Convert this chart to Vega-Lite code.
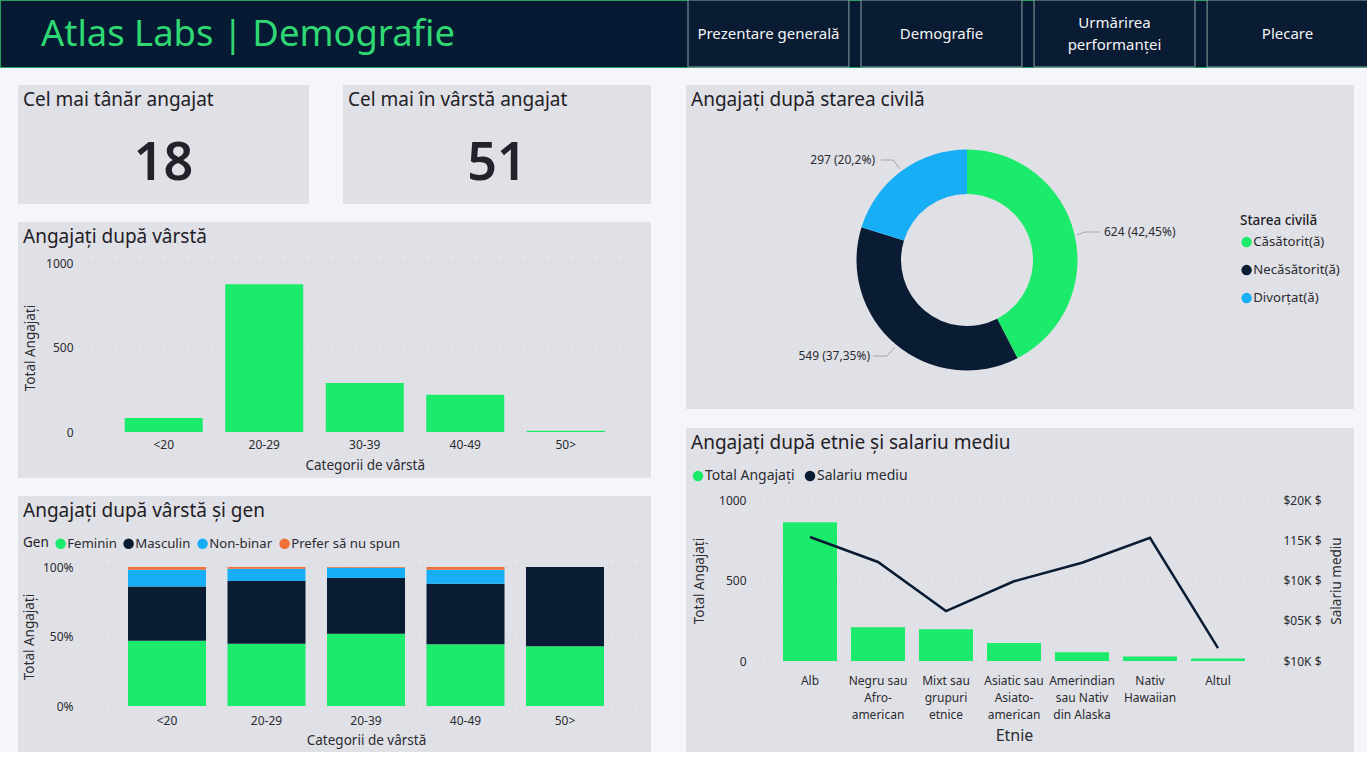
{
  "$schema": "https://vega.github.io/schema/vega-lite/v6.json",
  "background": "#f5f6fc",
  "padding": {"left": -1, "top": -1, "right": 0, "bottom": 0},
  "spacing": 17,
  "resolve": {"scale": {"color": "independent"}, "legend": {"color": "independent"}},
  "config": {
    "font": "Noto Sans",
    "view": {"fill": "#e0e1e7", "stroke": null},
    "title": {"anchor": "start", "frame": "group", "fontSize": 19, "fontWeight": "normal", "color": "#1f2026", "offset": -25, "dx": 5},
    "axis": {"domain": false, "ticks": false, "grid": false, "labelColor": "#2b2b30", "labelFontSize": 12, "titleColor": "#2b2b30", "titleFontSize": 13.5, "titleFontWeight": "normal", "labelOverlap": false, "labelAngle": 0},
    "legend": {"symbolType": "circle", "labelColor": "#2b2b30", "titleColor": "#1f2026", "labelFontSize": 13.2, "titleFontSize": 13.5, "titleFontWeight": "normal", "labelLimit": 0}
  },
  "vconcat": [
    {
      "width": 1367,
      "height": 67,
      "view": {"fill": "#061b33", "stroke": "#2a9d63"},
      "title": {"text": "Atlas Labs | Demografie", "fontSize": 36.4, "color": "#2fd873", "dx": 41, "offset": -54},
      "data": {"values": [
        {"buton": "Prezentare generală", "randuri": 1},
        {"buton": "Demografie", "randuri": 1},
        {"buton": "Urmărirea\nperformanței", "randuri": 2},
        {"buton": "Plecare", "randuri": 1}
      ]},
      "encoding": {
        "x": {"field": "buton", "type": "nominal", "sort": null, "axis": null, "scale": {"range": [688, 1368], "paddingInner": 0.07, "paddingOuter": 0}}
      },
      "layer": [
        {"mark": {"type": "rect", "fill": "#0a1c33", "stroke": "#8aa5a3", "strokeWidth": 1}},
        {
          "transform": [{"filter": "datum.randuri == 1"}],
          "mark": {"type": "text", "color": "#f2f4f6", "fontSize": 15},
          "encoding": {"text": {"field": "buton"}}
        },
        {
          "transform": [{"filter": "datum.randuri == 2"}],
          "mark": {"type": "text", "color": "#f2f4f6", "fontSize": 15, "lineBreak": "\n", "lineHeight": 22, "dy": -11},
          "encoding": {"text": {"field": "buton"}}
        }
      ]
    },
    {
      "spacing": 17,
      "resolve": {"scale": {"color": "independent"}, "legend": {"color": "independent"}},
      "hconcat": [
        {"width": 1, "height": 1, "view": {"fill": null}, "data": {"values": []}, "mark": "rect"},
        {
          "spacing": 35,
          "resolve": {"scale": {"color": "independent"}, "legend": {"color": "independent"}},
          "hconcat": [
            {
              "spacing": 18,
              "resolve": {"scale": {"color": "independent"}, "legend": {"color": "independent"}},
              "vconcat": [
                {
                  "spacing": 34,
                  "hconcat": [
                    {
                      "width": 291, "height": 119,
                      "title": "Cel mai tânăr angajat",
                      "data": {"values": [{"varsta": 18}]},
                      "mark": {"type": "text", "fontSize": 52, "fontWeight": 600, "color": "#22232a", "dy": 19},
                      "encoding": {
                        "x": {"datum": 0.5, "type": "quantitative", "scale": {"domain": [0, 1]}, "axis": null},
                        "y": {"datum": 0.5, "type": "quantitative", "scale": {"domain": [0, 1]}, "axis": null},
                        "text": {"field": "varsta"}
                      }
                    },
                    {
                      "width": 308, "height": 119,
                      "title": "Cel mai în vârstă angajat",
                      "data": {"values": [{"varsta": 51}]},
                      "mark": {"type": "text", "fontSize": 52, "fontWeight": 600, "color": "#22232a", "dy": 19},
                      "encoding": {
                        "x": {"datum": 0.5, "type": "quantitative", "scale": {"domain": [0, 1]}, "axis": null},
                        "y": {"datum": 0.5, "type": "quantitative", "scale": {"domain": [0, 1]}, "axis": null},
                        "text": {"field": "varsta"}
                      }
                    }
                  ]
                },
                {
                  "width": 633, "height": 256,
                  "title": "Angajați după vârstă",
                  "resolve": {"scale": {"x": "independent"}},
                  "layer": [
                    {
                      "data": {"values": [{"tick": 0}, {"tick": 500}, {"tick": 1000}]},
                      "mark": {"type": "rule", "color": "#c8c9cf", "strokeDash": [1, 5]},
                      "encoding": {
                        "x": {"datum": 0, "type": "quantitative", "scale": {"domain": [0, 1], "range": [64, 627]}, "axis": null},
                        "x2": {"datum": 1},
                        "y": {"field": "tick", "type": "quantitative", "scale": {"domain": [0, 1000], "range": [210, 41]}, "axis": {"values": [0, 500, 1000], "format": "d", "orient": "left", "offset": -57, "title": "Total Angajați", "titlePadding": 8}}
                      }
                    },
                    {
                      "data": {"values": [
                        {"categorie": "<20", "total": 83},
                        {"categorie": "20-29", "total": 875},
                        {"categorie": "30-39", "total": 290},
                        {"categorie": "40-49", "total": 220},
                        {"categorie": "50>", "total": 8}
                      ]},
                      "mark": {"type": "bar", "color": "#1cea6a"},
                      "encoding": {
                        "x": {"field": "categorie", "type": "nominal", "sort": null, "scale": {"range": [95.5, 598], "paddingInner": 0.224, "paddingOuter": 0.112}, "axis": {"offset": -46, "title": "Categorii de vârstă", "labelPadding": 7, "titlePadding": 8}},
                        "y": {"field": "total", "type": "quantitative"}
                      }
                    }
                  ]
                },
                {
                  "width": 633, "height": 256,
                  "title": "Angajați după vârstă și gen",
                  "resolve": {"scale": {"x": "independent"}},
                  "layer": [
                    {
                      "data": {"values": [{"tick": 0}, {"tick": 0.5}, {"tick": 1}]},
                      "mark": {"type": "rule", "color": "#c8c9cf", "strokeDash": [1, 5]},
                      "encoding": {
                        "x": {"datum": 0, "type": "quantitative", "scale": {"domain": [0, 1], "range": [69, 624]}, "axis": null},
                        "x2": {"datum": 1},
                        "y": {"field": "tick", "type": "quantitative", "scale": {"domain": [0, 1], "range": [210, 71]}, "axis": {"values": [0, 0.5, 1], "format": ".0%", "orient": "left", "offset": -57, "title": "Total Angajați", "titlePadding": 6}}
                      }
                    },
                    {
                      "data": {"values": [
                        {"categorie": "<20", "gen": "Feminin", "ordine": 1, "procent": 47},
                        {"categorie": "<20", "gen": "Masculin", "ordine": 2, "procent": 39},
                        {"categorie": "<20", "gen": "Non-binar", "ordine": 3, "procent": 12},
                        {"categorie": "<20", "gen": "Prefer să nu spun", "ordine": 4, "procent": 2},
                        {"categorie": "20-29", "gen": "Feminin", "ordine": 1, "procent": 44.7},
                        {"categorie": "20-29", "gen": "Masculin", "ordine": 2, "procent": 45.3},
                        {"categorie": "20-29", "gen": "Non-binar", "ordine": 3, "procent": 8.8},
                        {"categorie": "20-29", "gen": "Prefer să nu spun", "ordine": 4, "procent": 1.2},
                        {"categorie": "20-39", "gen": "Feminin", "ordine": 1, "procent": 52},
                        {"categorie": "20-39", "gen": "Masculin", "ordine": 2, "procent": 40},
                        {"categorie": "20-39", "gen": "Non-binar", "ordine": 3, "procent": 7.5},
                        {"categorie": "20-39", "gen": "Prefer să nu spun", "ordine": 4, "procent": 0.5},
                        {"categorie": "40-49", "gen": "Feminin", "ordine": 1, "procent": 44.5},
                        {"categorie": "40-49", "gen": "Masculin", "ordine": 2, "procent": 43.5},
                        {"categorie": "40-49", "gen": "Non-binar", "ordine": 3, "procent": 10},
                        {"categorie": "40-49", "gen": "Prefer să nu spun", "ordine": 4, "procent": 2},
                        {"categorie": "50>", "gen": "Feminin", "ordine": 1, "procent": 43},
                        {"categorie": "50>", "gen": "Masculin", "ordine": 2, "procent": 57}
                      ]},
                      "mark": {"type": "bar"},
                      "encoding": {
                        "x": {"field": "categorie", "type": "nominal", "sort": null, "scale": {"range": [99.25, 596.75], "paddingInner": 0.216, "paddingOuter": 0.108}, "axis": {"offset": -46, "title": "Categorii de vârstă", "labelPadding": 9, "titlePadding": 7}},
                        "y": {"field": "procent", "type": "quantitative", "stack": "normalize"},
                        "order": {"field": "ordine"},
                        "color": {
                          "field": "gen", "type": "nominal",
                          "scale": {"domain": ["Feminin", "Masculin", "Non-binar", "Prefer să nu spun"], "range": ["#1cea6a", "#0a1c33", "#18aef5", "#f0703a"]},
                          "legend": {"orient": "none", "legendX": 5, "legendY": 41, "direction": "horizontal", "title": "Gen", "titleOrient": "left", "titlePadding": 5, "columnPadding": 5, "labelOffset": 0, "symbolSize": 110}
                        }
                      }
                    }
                  ]
                }
              ]
            },
            {
              "spacing": 19,
              "resolve": {"scale": {"color": "independent"}, "legend": {"color": "independent"}},
              "vconcat": [
                {
                  "width": 668, "height": 324,
                  "title": "Angajați după starea civilă",
                  "data": {"values": [
                    {"stare": "Căsătorit(ă)", "ordine": 1, "angajati": 624, "eticheta": "624 (42,45%)"},
                    {"stare": "Necăsătorit(ă)", "ordine": 2, "angajati": 549, "eticheta": "549 (37,35%)"},
                    {"stare": "Divorțat(ă)", "ordine": 3, "angajati": 297, "eticheta": "297 (20,2%)"}
                  ]},
                  "encoding": {
                    "x": {"datum": 0, "type": "quantitative", "scale": {"domain": [-281, 387], "range": [0, 668]}, "axis": null},
                    "y": {"datum": 0, "type": "quantitative", "scale": {"domain": [-175, 149], "range": [0, 324]}, "axis": null}
                  },
                  "layer": [
                    {
                      "mark": {"type": "arc", "radius": 110.5, "radius2": 66},
                      "encoding": {
                        "theta": {"field": "angajati", "type": "quantitative", "stack": true},
                        "order": {"field": "ordine"},
                        "color": {
                          "field": "stare", "type": "nominal",
                          "scale": {"domain": ["Căsătorit(ă)", "Necăsătorit(ă)", "Divorțat(ă)"], "range": ["#1cea6a", "#0a1c33", "#18aef5"]},
                          "legend": {"orient": "none", "legendX": 554, "legendY": 129, "title": "Starea civilă", "titleFontWeight": 500, "rowPadding": 14, "labelOffset": 0, "symbolSize": 110, "titlePadding": 8}
                        }
                      }
                    },
                    {
                      "transform": [{"filter": "datum.ordine == 1"}],
                      "mark": {"type": "text", "align": "left", "fontSize": 12, "color": "#2b2b30"},
                      "encoding": {"x": {"datum": 137}, "y": {"datum": -28}, "text": {"field": "eticheta"}}
                    },
                    {
                      "transform": [{"filter": "datum.ordine == 2"}],
                      "mark": {"type": "text", "align": "right", "fontSize": 12, "color": "#2b2b30"},
                      "encoding": {"x": {"datum": -97}, "y": {"datum": 96}, "text": {"field": "eticheta"}}
                    },
                    {
                      "transform": [{"filter": "datum.ordine == 3"}],
                      "mark": {"type": "text", "align": "right", "fontSize": 12, "color": "#2b2b30"},
                      "encoding": {"x": {"datum": -92}, "y": {"datum": -100}, "text": {"field": "eticheta"}}
                    },
                    {"data": {"values": [{}]}, "mark": {"type": "rule", "color": "#a5a6ac"}, "encoding": {"x": {"datum": 110}, "x2": {"datum": 118}, "y": {"datum": -25}, "y2": {"datum": -28}}},
                    {"data": {"values": [{}]}, "mark": {"type": "rule", "color": "#a5a6ac"}, "encoding": {"x": {"datum": 118}, "x2": {"datum": 133}, "y": {"datum": -28}, "y2": {"datum": -28}}},
                    {"data": {"values": [{}]}, "mark": {"type": "rule", "color": "#a5a6ac"}, "encoding": {"x": {"datum": -94}, "x2": {"datum": -80}, "y": {"datum": 96}, "y2": {"datum": 96}}},
                    {"data": {"values": [{}]}, "mark": {"type": "rule", "color": "#a5a6ac"}, "encoding": {"x": {"datum": -80}, "x2": {"datum": -72}, "y": {"datum": 96}, "y2": {"datum": 87}}},
                    {"data": {"values": [{}]}, "mark": {"type": "rule", "color": "#a5a6ac"}, "encoding": {"x": {"datum": -86}, "x2": {"datum": -74}, "y": {"datum": -100}, "y2": {"datum": -100}}},
                    {"data": {"values": [{}]}, "mark": {"type": "rule", "color": "#a5a6ac"}, "encoding": {"x": {"datum": -74}, "x2": {"datum": -67}, "y": {"datum": -100}, "y2": {"datum": -91}}}
                  ]
                },
                {
                  "width": 668, "height": 324,
                  "title": "Angajați după etnie și salariu mediu",
                  "resolve": {"scale": {"x": "independent", "y": "independent"}},
                  "data": {"values": [
                    {"etnie": "Alb", "total": 862, "salariu": 15400},
                    {"etnie": "Negru sau|Afro-|american", "total": 210, "salariu": 12300},
                    {"etnie": "Mixt sau|grupuri|etnice", "total": 197, "salariu": 6200},
                    {"etnie": "Asiatic sau|Asiato-|american", "total": 112, "salariu": 9900},
                    {"etnie": "Amerindian|sau Nativ|din Alaska", "total": 55, "salariu": 12200},
                    {"etnie": "Nativ|Hawaiian", "total": 28, "salariu": 15300},
                    {"etnie": "Altul", "total": 15, "salariu": 1600}
                  ]},
                  "layer": [
                    {
                      "data": {"values": [{"tick": 0}, {"tick": 500}, {"tick": 1000}]},
                      "mark": {"type": "rule", "color": "#c8c9cf", "strokeDash": [1, 5]},
                      "encoding": {
                        "x": {"datum": 0, "type": "quantitative", "scale": {"domain": [0, 1], "range": [69, 589]}, "axis": null},
                        "x2": {"datum": 1},
                        "y": {"field": "tick", "type": "quantitative", "scale": {"domain": [0, 1000], "range": [233, 72]}, "axis": null}
                      }
                    },
                    {
                      "mark": {"type": "bar"},
                      "encoding": {
                        "x": {"field": "etnie", "type": "nominal", "sort": null, "scale": {"range": [90, 566], "paddingInner": 0.206, "paddingOuter": 0.103}, "axis": {"offset": -91, "title": "Etnie", "titleFontSize": 16, "labelPadding": 14, "titlePadding": 7, "labelExpr": "split(datum.label, '|')", "labelLineHeight": 17, "labelLimit": 0}},
                        "y": {"field": "total", "type": "quantitative", "scale": {"domain": [0, 1000], "range": [233, 72]}, "axis": {"values": [0, 500, 1000], "format": "d", "orient": "left", "offset": -62, "title": "Total Angajați", "titlePadding": 12}},
                        "color": {
                          "datum": "Total Angajați",
                          "scale": {"domain": ["Total Angajați", "Salariu mediu"], "range": ["#1cea6a", "#0a1c33"]},
                          "legend": {"orient": "none", "legendX": 5, "legendY": 41, "direction": "horizontal", "title": null, "columnPadding": 8, "labelOffset": 0, "labelFontSize": 14, "symbolSize": 110}
                        }
                      }
                    },
                    {
                      "mark": {"type": "line", "color": "#0a1c33", "strokeWidth": 2.5},
                      "encoding": {
                        "x": {"field": "etnie", "type": "nominal", "sort": null, "scale": {"range": [90, 566], "paddingInner": 0.206, "paddingOuter": 0.103}, "axis": null},
                        "y": {"field": "salariu", "type": "quantitative", "scale": {"domain": [0, 20000], "range": [233, 72]}, "axis": {"values": [0, 5000, 10000, 15000, 20000], "orient": "right", "offset": -75, "title": "Salariu mediu", "titleAngle": -90, "titlePadding": 22, "labelPadding": 4, "labelExpr": "datum.value == 20000 ? '$20K $' : datum.value == 15000 ? '115K $' : datum.value == 10000 ? '$10K $' : datum.value == 5000 ? '$05K $' : '$10K $'"}}
                      }
                    }
                  ]
                }
              ]
            }
          ]
        }
      ]
    }
  ]
}
